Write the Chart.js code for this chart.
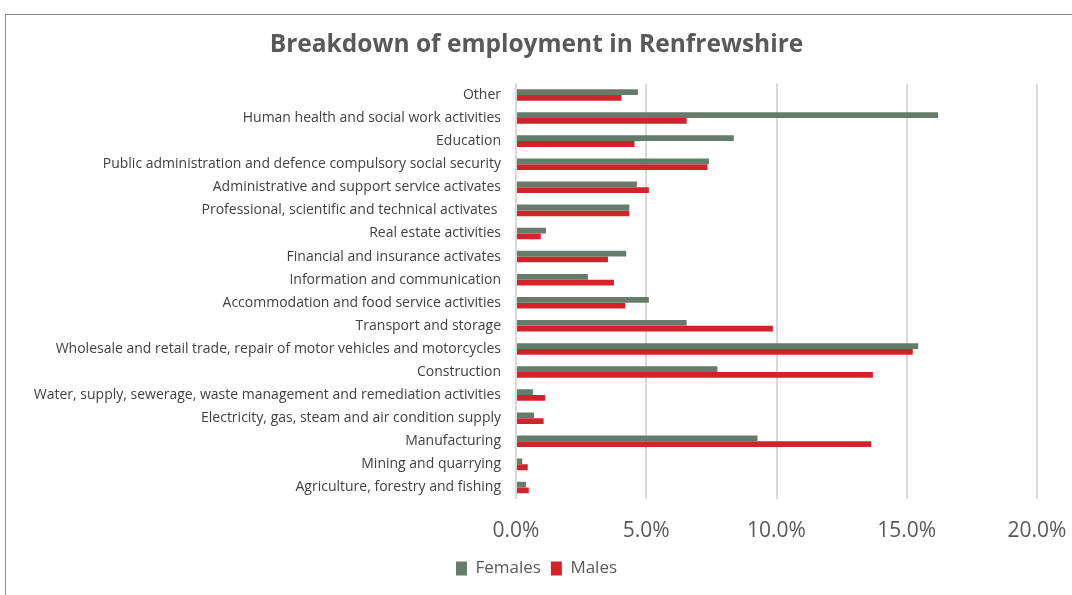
<!DOCTYPE html>
<html>
<head>
<meta charset="utf-8">
<script src="https://cdn.jsdelivr.net/npm/chart.js@4"></script>
<style>
  html, body { margin: 0; padding: 0; background: #fff; }
  #wrap { position: relative; width: 1072px; height: 595px; overflow: hidden; }
  #frame { position: absolute; left: 5px; top: 14px; width: 1100px; height: 600px;
           border-top: 1px solid #8c8c8c; border-left: 1px solid #8c8c8c; }
  canvas { position: absolute; left: 0; top: 0; }
</style>
</head>
<body>
<div id="wrap">
  <div id="frame"></div>
  <canvas id="myChart" width="1072" height="595"></canvas>
</div>
<script>
var categories = [
    "Other",
    "Human health and social work activities",
    "Education",
    "Public administration and defence compulsory social security",
    "Administrative and support service activates",
    "Professional, scientific and technical activates ",
    "Real estate activities",
    "Financial and insurance activates",
    "Information and communication",
    "Accommodation and food service activities",
    "Transport and storage",
    "Wholesale and retail trade, repair of motor vehicles and motorcycles",
    "Construction",
    "Water, supply, sewerage, waste management and remediation activities",
    "Electricity, gas, steam and air condition supply",
    "Manufacturing",
    "Mining and quarrying",
    "Agriculture, forestry and fishing"
];
var females = [4.68, 16.2, 8.36, 7.41, 4.64, 4.35, 1.15, 4.23, 2.76, 5.10, 6.55, 15.44, 7.73, 0.65, 0.69, 9.27, 0.24, 0.38];
var males = [4.05, 6.55, 4.55, 7.35, 5.10, 4.35, 0.95, 3.53, 3.76, 4.19, 9.86, 15.23, 13.70, 1.12, 1.06, 13.63, 0.45, 0.49];
var xTicks = [0, 5, 10, 15, 20];

var ctx = document.getElementById('myChart').getContext('2d');
var chart = new Chart(ctx, {
    type: 'bar',
    data: {
        labels: categories,
        datasets: [{
            label: 'Females',
            backgroundColor: 'rgb(101, 124, 107)',
            data: females,
        }, {
            label: 'Males',
            backgroundColor: 'rgb(212, 34, 42)',
            data: males,
        }]
    },
    options: {
        indexAxis: 'y',
        responsive: false,
        animation: false,
        categoryPercentage: 0.5,
        barPercentage: 1.0,
        layout: { padding: { top: 25, right: 11, bottom: 8, left: 12 } },
        plugins: {
            title: {
                display: true,
                text: 'Breakdown of employment in Renfrewshire',
                color: '#595959',
                font: { family: 'Open Sans', size: 24.5, weight: 'bold' },
                padding: { top: 5, bottom: 24 }
            },
            legend: {
                position: 'bottom',
                labels: {
                    color: '#595959',
                    font: { family: 'Open Sans', size: 17 },
                    boxWidth: 11,
                    boxHeight: 14,
                    padding: 10
                }
            },
            tooltip: { enabled: false }
        },
        scales: {
            x: {
                min: 0,
                max: 20,
                afterBuildTicks: function (scale) {
                    scale.ticks = xTicks.map(function (v) { return { value: v }; });
                },
                afterFit: function (scale) {
                    scale.height = 51;
                    scale.paddingRight = 35;
                },
                grid: { color: '#d9d9d9', lineWidth: 2, drawTicks: false },
                border: { display: false },
                ticks: {
                    color: '#595959',
                    padding: 19,
                    font: { family: 'Open Sans', size: 21 },
                    callback: function (v) { return v.toFixed(1) + '%'; }
                }
            },
            y: {
                afterFit: function (scale) { scale.width = 504; },
                grid: { display: false, drawTicks: false },
                border: { display: false },
                ticks: {
                    color: '#404040',
                    padding: 15,
                    autoSkip: false,
                    font: { family: 'Open Sans', size: 14 }
                }
            }
        }
    }
});
</script>
</body>
</html>
